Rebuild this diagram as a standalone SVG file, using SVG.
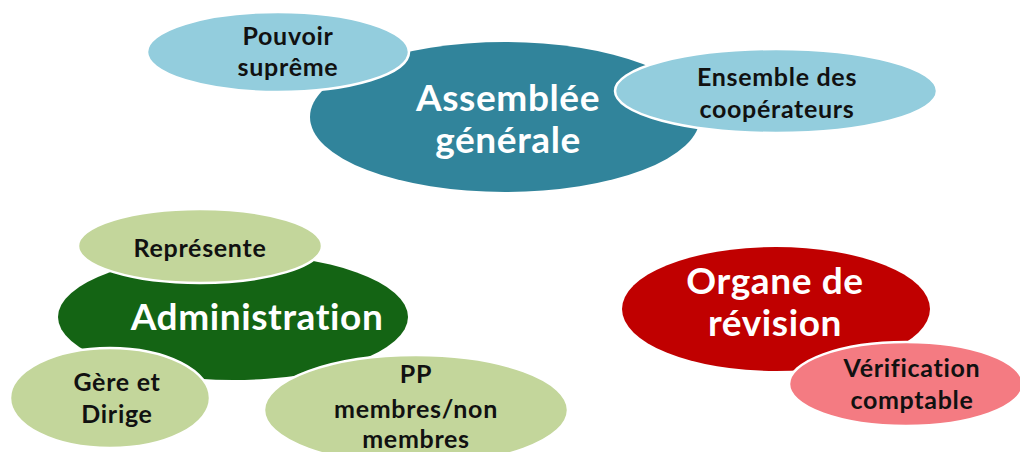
<svg xmlns="http://www.w3.org/2000/svg" width="1020" height="452" viewBox="0 0 1020 452">
<style>
text{font-family:Lato,"Open Sans","DejaVu Sans",sans-serif;font-weight:bold;text-anchor:middle;font-variant-ligatures:none}
.main{font-size:37px;fill:#fff;letter-spacing:0.6px}
.sub{font-size:25px;fill:#111;letter-spacing:0.7px}
.sat{stroke:#fff;stroke-width:2.5}
.teal{fill:#31849B}.lblue{fill:#93CDDD}
.dgreen{fill:#146414}.lgreen{fill:#C3D69B}
.dred{fill:#C00000}.lred{fill:#F47B82}
</style>
<rect width="1020" height="452" fill="#fff"/>
<g id="assemblee">
<ellipse class="teal" cx="505" cy="117" rx="195" ry="75"/>
<text class="main" x="508" y="111">Assemblée</text>
<text class="main" x="508" y="153">générale</text>
</g>
<g id="pouvoir">
<ellipse class="lblue sat" cx="278" cy="52" rx="131" ry="40"/>
<text class="sub" x="288" y="45">Pouvoir</text>
<text class="sub" x="288" y="76">suprême</text>
</g>
<g id="ensemble">
<ellipse class="lblue sat" cx="776" cy="91" rx="161" ry="42"/>
<text class="sub" x="777" y="86">Ensemble des</text>
<text class="sub" x="777" y="118">coopérateurs</text>
</g>
<g id="administration">
<ellipse class="dgreen" cx="233" cy="317" rx="175" ry="63"/>
<text class="main" x="257" y="330">Administration</text>
</g>
<g id="represente">
<ellipse class="lgreen sat" cx="200" cy="246" rx="122" ry="37"/>
<text class="sub" x="200" y="257">Représente</text>
</g>
<g id="gere">
<ellipse class="lgreen sat" cx="110" cy="398" rx="100" ry="50"/>
<text class="sub" x="117" y="391">Gère et</text>
<text class="sub" x="117" y="423">Dirige</text>
</g>
<g id="pp">
<ellipse class="lgreen sat" cx="416" cy="410" rx="152" ry="55"/>
<text class="sub" x="416" y="383">PP</text>
<text class="sub" x="416" y="418">membres/non</text>
<text class="sub" x="416" y="448">membres</text>
</g>
<g id="organe">
<ellipse class="dred" cx="776" cy="309" rx="154" ry="62"/>
<text class="main" x="775" y="294">Organe de</text>
<text class="main" x="775" y="336">révision</text>
</g>
<g id="verification">
<ellipse class="lred sat" cx="906" cy="384" rx="117" ry="42"/>
<text class="sub" x="912" y="377">Vérification</text>
<text class="sub" x="912" y="409">comptable</text>
</g>
<g id="connectors"></g>
</svg>
